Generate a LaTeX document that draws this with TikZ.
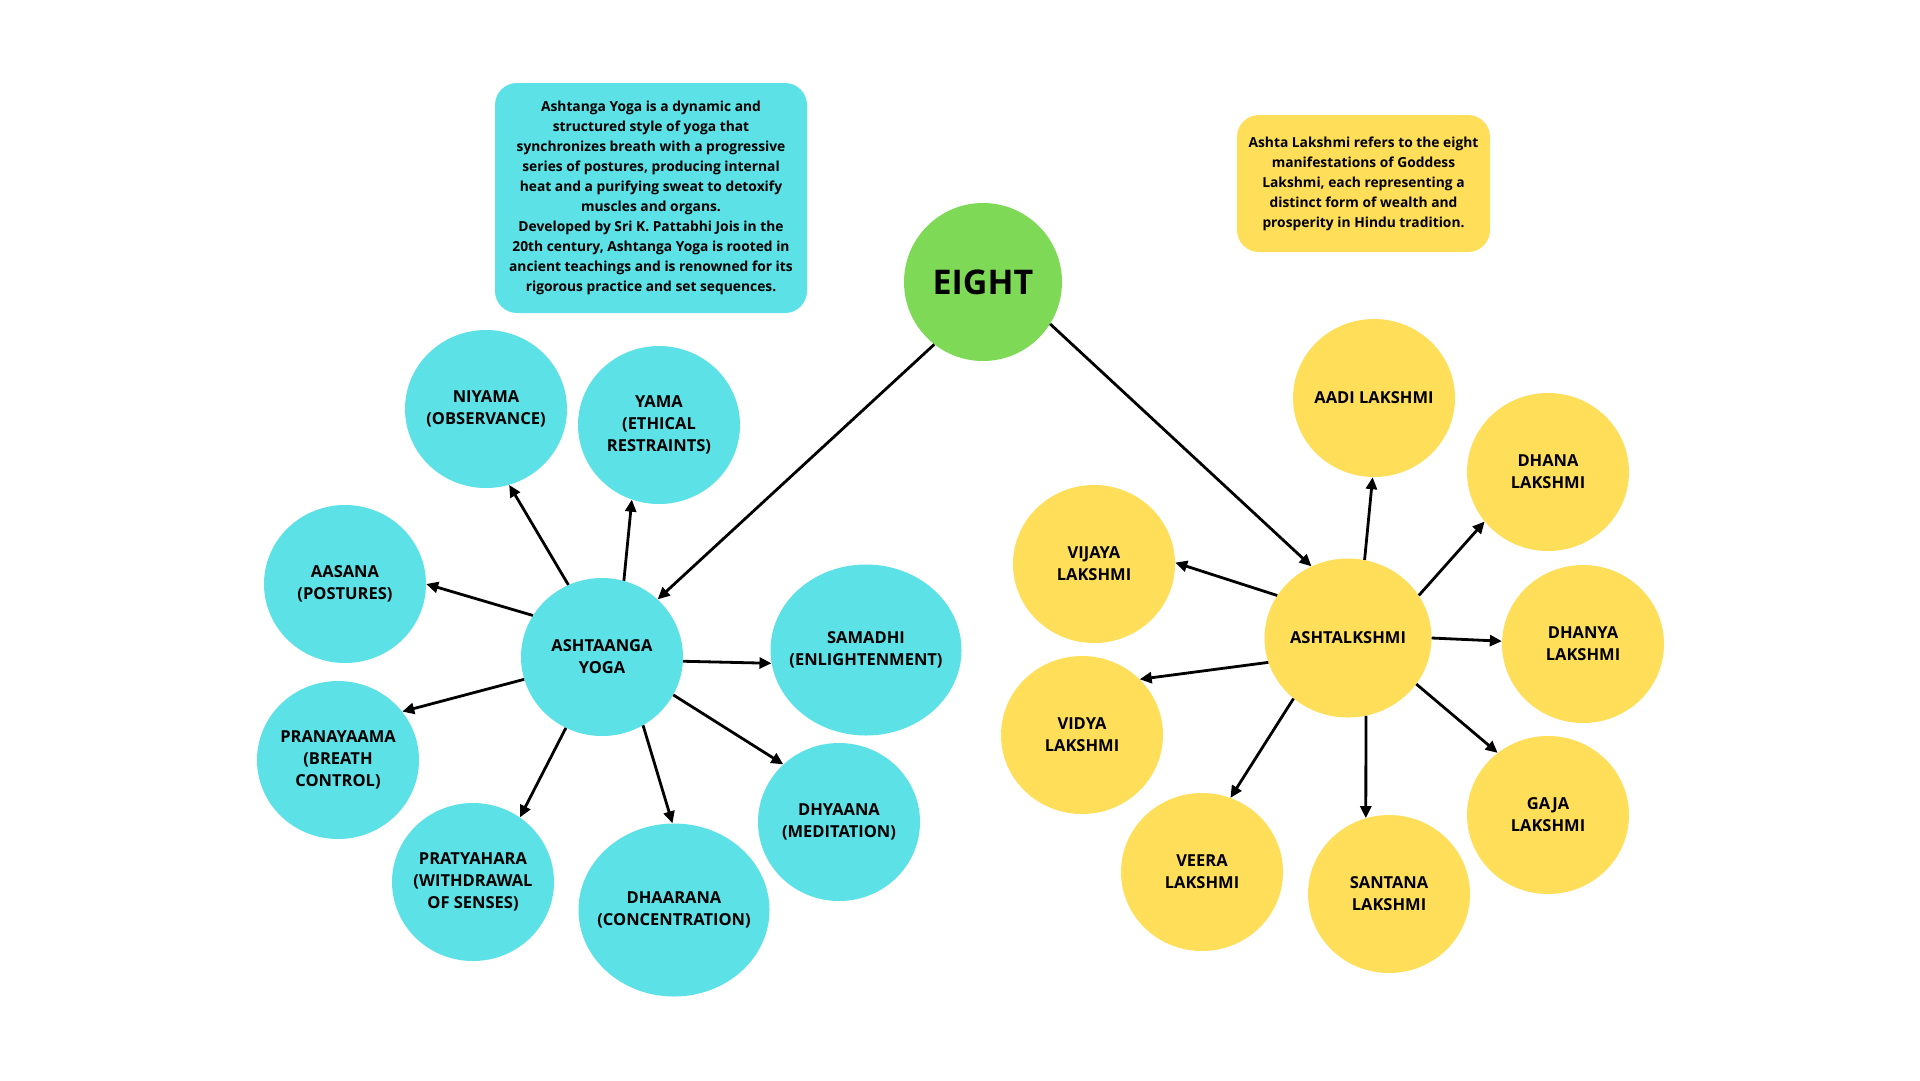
\documentclass[tikz,border=0pt]{standalone}
\usepackage{fontspec}
\setmainfont{Open Sans}
\usetikzlibrary{shapes.geometric,arrows.meta}
\definecolor{cyanc}{HTML}{5CE1E6}
\definecolor{yelc}{HTML}{FFDE59}
\definecolor{greenc}{HTML}{7ED957}
\tikzset{
  bubble/.style={ellipse, inner xsep=-30pt, inner ysep=0pt, minimum width=162pt, minimum height=158pt, align=center,
    font=\bfseries\fontsize{16.5}{22}\selectfont, text=black},
  cbub/.style={bubble, fill=cyanc},
  ybub/.style={bubble, fill=yelc},
  infobox/.style={rounded corners=22pt, inner sep=0pt, align=center,
    font=\bfseries\fontsize{13.8}{20}\selectfont, text=black},
  arr/.style={-{Triangle[length=12pt,width=11pt]}, line width=2.8pt, black},
}
\begin{document}
\begin{tikzpicture}[x=1pt,y=-1pt]
\useasboundingbox[fill=white] (0,0) rectangle (1920,1080);
% info boxes
\node[infobox, fill=cyanc, minimum width=312pt, minimum height=230pt] (ybox) at (651,198)
  {Ashtanga Yoga is a dynamic and\\structured style of yoga that\\synchronizes breath with a progressive\\series of postures, producing internal\\heat and a purifying sweat to detoxify\\muscles and organs.\\Developed by Sri K. Pattabhi Jois in the\\20th century, Ashtanga Yoga is rooted in\\ancient teachings and is renowned for its\\rigorous practice and set sequences.};
\node[infobox, fill=yelc, minimum width=253pt, minimum height=137pt] (lbox) at (1363.5,183.5)
  {Ashta Lakshmi refers to the eight\\manifestations of Goddess\\Lakshmi, each representing a\\distinct form of wealth and\\prosperity in Hindu tradition.};
% central
\node[circle, fill=greenc, inner sep=0pt, minimum size=158pt, font=\bfseries\fontsize{34}{40}\selectfont] (eight) at (983,282) {EIGHT};
% yoga side
\node[cbub] (ay) at (602,657) {ASHTAANGA\\YOGA};
\node[cbub] (niyama) at (486,409) {NIYAMA\\(OBSERVANCE)};
\node[cbub] (yama) at (659,425) {YAMA\\(ETHICAL\\RESTRAINTS)};
\node[cbub] (aasana) at (345,584) {AASANA\\(POSTURES)};
\node[cbub, minimum width=191pt, minimum height=171pt] (samadhi) at (866,650) {SAMADHI\\(ENLIGHTENMENT)};
\node[cbub] (prana) at (338,760) {PRANAYAAMA\\(BREATH\\CONTROL)};
\node[cbub] (praty) at (473,882) {PRATYAHARA\\(WITHDRAWAL\\OF SENSES)};
\node[cbub, minimum width=191pt, minimum height=173pt] (dhaar) at (674,910) {DHAARANA\\(CONCENTRATION)};
\node[cbub] (dhyaana) at (839,822) {DHYAANA\\(MEDITATION)};
% lakshmi side
\node[ybub, minimum width=167pt, minimum height=159pt] (al) at (1348,638) {ASHTALKSHMI};
\node[ybub] (aadi) at (1374,398) {AADI LAKSHMI};
\node[ybub] (dhana) at (1548,472) {DHANA\\LAKSHMI};
\node[ybub] (vijaya) at (1094,564) {VIJAYA\\LAKSHMI};
\node[ybub] (dhanya) at (1583,644) {DHANYA\\LAKSHMI};
\node[ybub] (vidya) at (1082,735) {VIDYA\\LAKSHMI};
\node[ybub] (gaja) at (1548,815) {GAJA\\LAKSHMI};
\node[ybub] (veera) at (1202,872) {VEERA\\LAKSHMI};
\node[ybub] (santana) at (1389,894) {SANTANA\\LAKSHMI};
% connectors
\draw[arr] (eight.-128) -- (ay.46);
\draw[arr] (eight.-32.7) -- (al.117.5);
\draw[arr] (ay.115.3) -- (niyama.-73.4);
\draw[arr] (ay.74.2) -- (yama.-110);
\draw[arr] (ay.149) -- (aasana.0.7);
\draw[arr] (ay.-3.5) -- (samadhi.-172.3);
\draw[arr] (ay.-164.3) -- (prana.37.3);
\draw[arr] (ay.-117.9) -- (praty.54.4);
\draw[arr] (ay.-59.4) -- (dhaar.91);
\draw[arr] (ay.-28.2) -- (dhyaana.134.5);
\draw[arr] (al.78.7) -- (aadi.-91.4);
\draw[arr] (al.31.8) -- (dhana.-142.6);
\draw[arr] (al.149.5) -- (vijaya.1.2);
\draw[arr] (al.-0.7) -- (dhanya.178.8);
\draw[arr] (al.-163.4) -- (vidya.44.8);
\draw[arr] (al.-34.3) -- (gaja.129.3);
\draw[arr] (al.-132.9) -- (veera.69.7);
\draw[arr] (al.-77.8) -- (santana.107.2);
\end{tikzpicture}
\end{document}
